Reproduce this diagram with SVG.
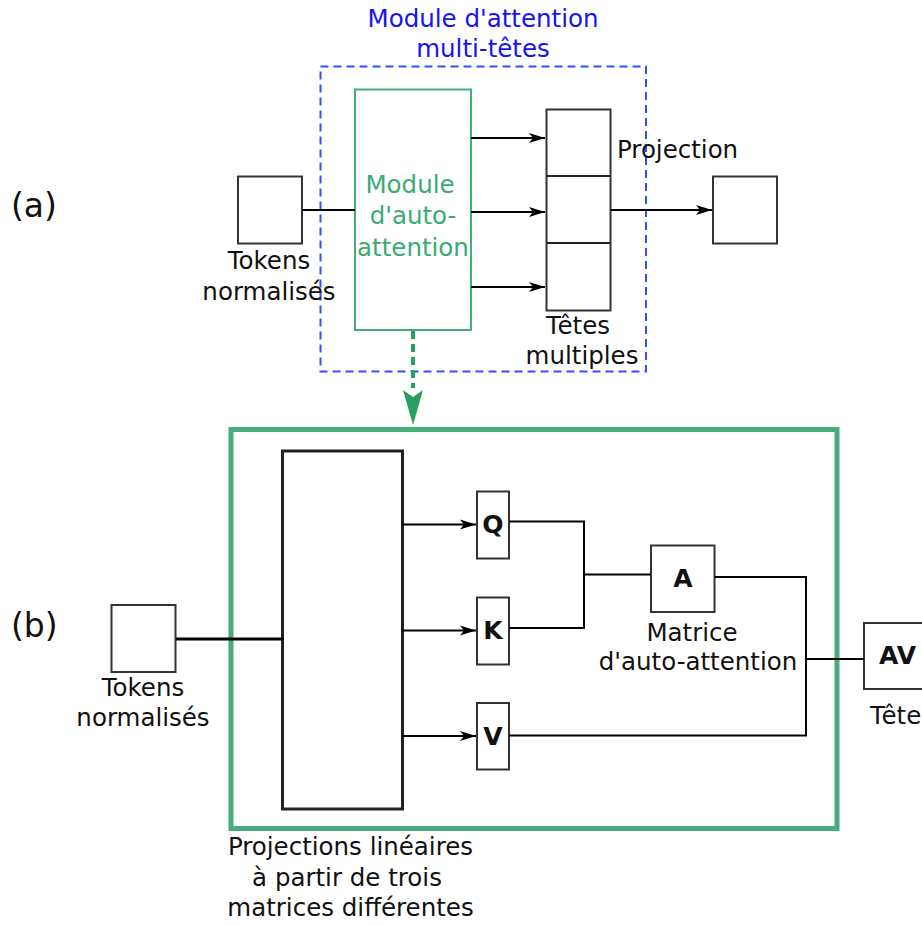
<svg xmlns="http://www.w3.org/2000/svg" width="922" height="925" viewBox="0 0 922 925">
<defs>
<style>
text{font-family:"DejaVu Sans","Liberation Sans",sans-serif;font-size:24.5px;fill:#111}
.lbl{font-size:33px}
.mid{text-anchor:middle}
.b{font-weight:bold;font-size:25px}
.box{fill:#fff;stroke:#333;stroke-width:2}
.ln{fill:none;stroke:#000;stroke-width:2}
.blue{fill:#1414f5}
.green{fill:#3daa73}
</style>
<marker id="ah" markerUnits="userSpaceOnUse" markerWidth="20" markerHeight="12" refX="0" refY="0" viewBox="-18 -6 20 12" orient="auto">
<path d="M0,0 L-16,-5 L-12,0 L-16,5 Z" fill="#000"/>
</marker>
</defs>
<rect width="922" height="925" fill="#fff"/>

<text class="lbl" x="11" y="217">(a)</text>
<text class="lbl" x="11" y="637">(b)</text>

<g id="module-multi">
<rect x="320.5" y="66.5" width="325.5" height="305" fill="none" stroke="#3050ff" stroke-width="2" stroke-dasharray="8,5"/>
<text class="blue mid" x="483" y="27">Module d'attention</text>
<text class="blue mid" x="483" y="57">multi-têtes</text>
</g>

<g id="tokens-a">
<rect class="box" x="238" y="176.5" width="64" height="67"/>
<text class="mid" x="269" y="269">Tokens</text>
<text class="mid" x="269" y="300">normalisés</text>
</g>

<g id="self-attn">
<rect x="355" y="89.5" width="116" height="240.5" fill="#fff" stroke="#45ad78" stroke-width="2"/>
<text class="green mid" x="410" y="193">Module</text>
<text class="green mid" x="413" y="224">d'auto-</text>
<text class="green mid" x="413" y="256">attention</text>
</g>

<g id="heads">
<rect class="box" x="546.5" y="109.5" width="64" height="201"/>
<line x1="546.5" y1="176" x2="610.5" y2="176" stroke="#222" stroke-width="2"/>
<line x1="546.5" y1="243" x2="610.5" y2="243" stroke="#222" stroke-width="2"/>
<text class="mid" x="578" y="334">Têtes</text>
<text class="mid" x="582" y="364">multiples</text>
</g>

<g id="out-a">
<rect class="box" x="713" y="176.5" width="64" height="67"/>
<text x="617" y="158">Projection</text>
</g>

<g id="big-b">
<rect x="231" y="429.5" width="606" height="399" fill="none" stroke="#47ad7a" stroke-width="5"/>
</g>

<g id="tokens-b">
<rect class="box" x="111.5" y="605" width="64" height="67"/>
<text class="mid" x="143" y="696">Tokens</text>
<text class="mid" x="143" y="726">normalisés</text>
</g>

<g id="proj">
<rect x="282.5" y="451" width="120" height="358" fill="#fff" stroke="#222" stroke-width="3"/>
<text class="mid" x="350.5" y="855">Projections linéaires</text>
<text class="mid" x="347" y="886">à partir de trois</text>
<text class="mid" x="350.5" y="916">matrices différentes</text>
</g>

<g id="q">
<rect class="box" x="477" y="491.5" width="32" height="67"/>
<text class="mid b" x="493" y="533">Q</text>
</g>
<g id="k">
<rect class="box" x="477" y="597.5" width="32" height="67"/>
<text class="mid b" x="493" y="639">K</text>
</g>
<g id="v">
<rect class="box" x="477" y="703" width="32" height="66.5"/>
<text class="mid b" x="493" y="745">V</text>
</g>

<g id="a">
<rect class="box" x="651" y="545.5" width="63.5" height="66.5"/>
<text class="mid b" x="683" y="587">A</text>
<text class="mid" x="692" y="641">Matrice</text>
<text class="mid" x="698" y="670">d'auto-attention</text>
</g>

<g id="av">
<rect class="box" x="864" y="623" width="70" height="66"/>
<text class="b" x="879" y="664">AV</text>
<text x="870" y="724">Têtes</text>
</g>

<g id="connectors">
<line class="ln" x1="302" y1="210" x2="355" y2="210"/>
<line class="ln" x1="471" y1="138" x2="545" y2="138" marker-end="url(#ah)"/>
<line class="ln" x1="471" y1="212" x2="545" y2="212" marker-end="url(#ah)"/>
<line class="ln" x1="471" y1="287" x2="545" y2="287" marker-end="url(#ah)"/>
<line class="ln" x1="610.5" y1="210" x2="712" y2="210" marker-end="url(#ah)"/>
<line x1="413" y1="331" x2="413" y2="388" stroke="#25a060" stroke-width="4" stroke-dasharray="8,5"/>
<path d="M413,425 L403,390 L413,397 L423,390 Z" fill="#25a060"/>

<line x1="176" y1="639" x2="284" y2="639" stroke="#000" stroke-width="3"/>
<line class="ln" x1="402" y1="524.5" x2="476" y2="524.5" marker-end="url(#ah)"/>
<line class="ln" x1="402" y1="630.5" x2="476" y2="630.5" marker-end="url(#ah)"/>
<line class="ln" x1="402" y1="736" x2="476" y2="736" marker-end="url(#ah)"/>
<polyline class="ln" points="509,521.5 584,521.5 584,628 509,628"/>
<line class="ln" x1="584" y1="574.5" x2="651" y2="574.5"/>
<polyline class="ln" points="714.5,577 806,577 806,735.5 509,735.5"/>
<line class="ln" x1="806" y1="659" x2="864" y2="659"/>
</g>
</svg>
